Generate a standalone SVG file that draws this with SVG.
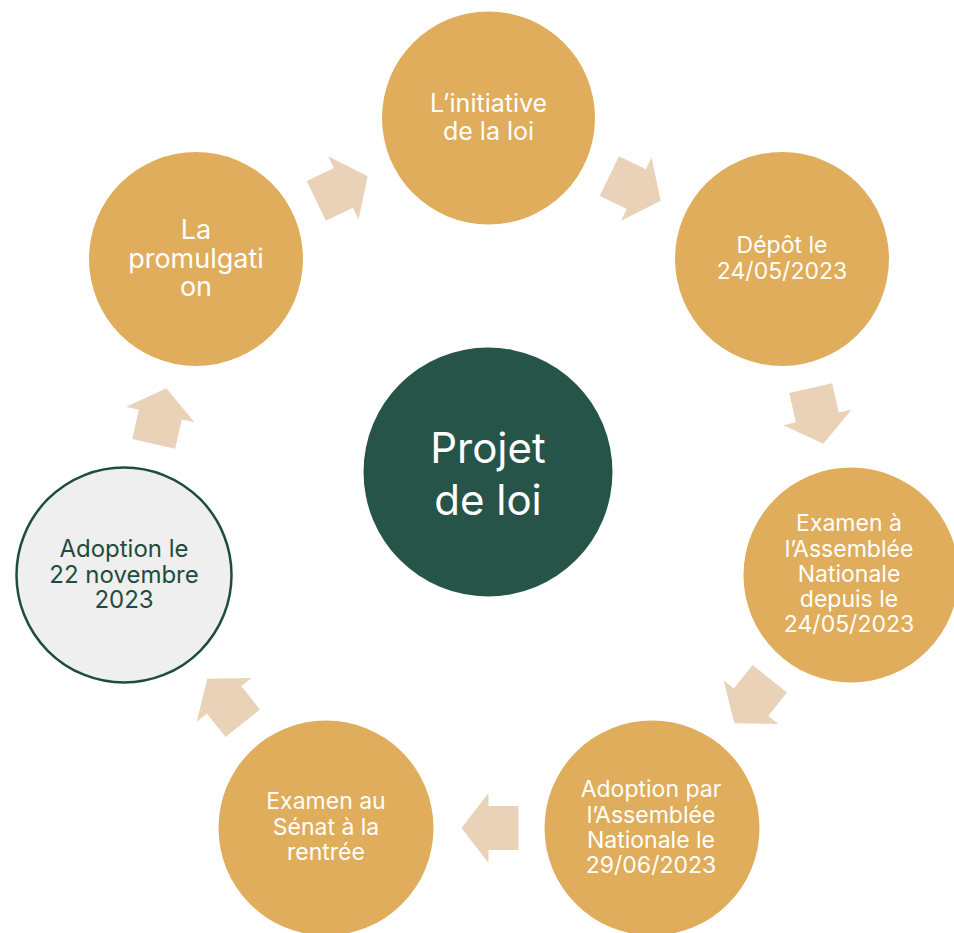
<svg xmlns="http://www.w3.org/2000/svg" width="954" height="933" viewBox="0 0 954 933">
<defs>
<style>
.gold{fill:#DFAD5B}
.t{font-family:Inter,"Noto Sans","Liberation Sans",sans-serif;fill:#ffffff;text-anchor:middle;font-size:23px}
.dk{fill:#1E4D3F;font-size:24px}
.s25{font-size:25px}
.s27{font-size:27px}
.s42{font-size:42px}
.arrow{fill:#E9D2B8}
</style>
<polygon id="arr" points="-28.5,-22 1.5,-22 1.5,-35 28.5,0 1.5,35 1.5,22 -28.5,22"/>
</defs>
<rect width="954" height="933" fill="#ffffff"/>
<g id="connectors" class="arrow">
<use href="#arr" transform="translate(342,188.5) rotate(-25.71)"/>
<use href="#arr" transform="translate(635,188.5) rotate(25.71)"/>
<use href="#arr" transform="translate(817,416) rotate(77.14)"/>
<use href="#arr" transform="translate(752,701) rotate(128.57)"/>
<use href="#arr" transform="translate(490,828) rotate(180)"/>
<use href="#arr" transform="translate(225,701) rotate(231.43)"/>
<use href="#arr" transform="translate(160,416) rotate(282.86)"/>
</g>
<g id="center">
<circle cx="488" cy="472" r="124.5" fill="#275448"/>
<text class="t s42" x="488" y="463">Projet</text>
<text class="t s42" x="488" y="515">de loi</text>
</g>
<g id="initiative">
<circle class="gold" cx="488.5" cy="118" r="106.5"/>
<text class="t s25" x="488.5" y="112">L’initiative</text>
<text class="t s25" x="488.5" y="140">de la loi</text>
</g>
<g id="depot">
<circle class="gold" cx="782" cy="259" r="107"/>
<text class="t" x="782" y="253">Dépôt le</text>
<text class="t" x="782" y="279">24/05/2023</text>
</g>
<g id="examen-an">
<circle class="gold" cx="851" cy="575" r="107.5"/>
<text class="t" x="849" y="531">Examen à</text>
<text class="t" x="849" y="557">l’Assemblée</text>
<text class="t" x="849" y="582">Nationale</text>
<text class="t" x="849" y="607">depuis le</text>
<text class="t" x="849" y="632">24/05/2023</text>
</g>
<g id="adoption-an">
<circle class="gold" cx="652" cy="828" r="107.5"/>
<text class="t" x="651" y="797">Adoption par</text>
<text class="t" x="651" y="823">l’Assemblée</text>
<text class="t" x="651" y="848">Nationale le</text>
<text class="t" x="651" y="873">29/06/2023</text>
</g>
<g id="examen-senat">
<circle class="gold" cx="326" cy="828" r="107.5"/>
<text class="t" x="326" y="809">Examen au</text>
<text class="t" x="326" y="835">Sénat à la</text>
<text class="t" x="326" y="860">rentrée</text>
</g>
<g id="adoption-nov">
<circle cx="124" cy="575" r="107.5" fill="#EFEFEF" stroke="#1E4D3F" stroke-width="2.5"/>
<text class="t dk" x="124" y="557">Adoption le</text>
<text class="t dk" x="124" y="583">22 novembre</text>
<text class="t dk" x="124" y="608">2023</text>
</g>
<g id="promulgation">
<circle class="gold" cx="196" cy="259" r="107"/>
<text class="t s27" x="196" y="239">La</text>
<text class="t s27" x="196" y="268">promulgati</text>
<text class="t s27" x="196" y="296">on</text>
</g>
</svg>
